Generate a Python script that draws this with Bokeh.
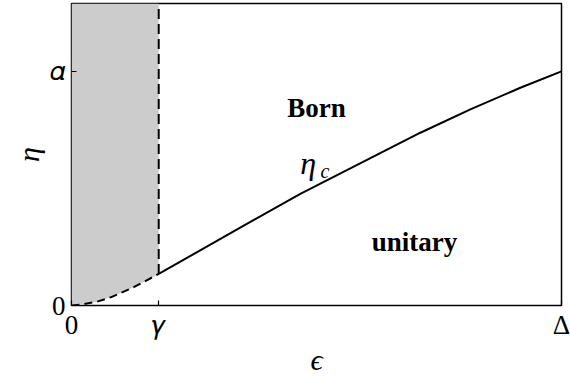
from bokeh.plotting import figure
from bokeh.models import Label, Range1d, FixedTicker
from bokeh.embed import file_html
from bokeh.resources import INLINE

# data (units: Delta = 1, alpha = 1)
gamma = 0.178
eta_top = 1.29
eps_dashed = [0.0, 0.018, 0.05, 0.08, 0.127, 0.178]
eta_dashed = [0.0, 0.004, 0.015, 0.035, 0.078, 0.135]
eps_solid = [0.178, 0.365, 0.467, 0.590, 0.712, 0.814, 0.916, 1.0]
eta_solid = [0.135, 0.357, 0.477, 0.608, 0.738, 0.838, 0.930, 1.0]
x_ticks = [0.0, gamma, 1.0]
x_tick_labels = ["0", "\U0001D6FE", "Δ"]
y_ticks = [0.0, 1.0]
y_tick_labels = ["0", "\U0001D6FC"]

FONT = "Liberation Serif"

p = figure(width=570, height=380, output_backend="svg", toolbar_location=None,
           x_range=Range1d(0, 1.0), y_range=Range1d(0, eta_top),
           min_border_left=71, min_border_right=9, min_border_top=3, min_border_bottom=75)
p.grid.visible = False
p.outline_line_color = "black"
p.outline_line_width = 1.5
p.background_fill_color = "white"

# shaded region
p.varea(x=eps_dashed, y1=eta_dashed, y2=[eta_top] * len(eps_dashed), fill_color="#cccccc")
p.line(eps_dashed, eta_dashed, line_color="black", line_width=2, line_dash="8 5")
p.line(eps_solid, eta_solid, line_color="black", line_width=2)
p.segment(x0=[gamma], y0=[eta_dashed[-1]], x1=[gamma], y1=[eta_top], line_color="black",
          line_width=2, line_dash="10 5")

for ax in (p.xaxis[0], p.yaxis[0]):
    ax.axis_line_color = None
    ax.major_tick_in = 5
    ax.major_tick_out = 0
    ax.major_tick_line_color = "black"
    ax.major_tick_line_width = 1.2
    ax.minor_tick_line_color = None
    ax.major_label_text_font = FONT
    ax.major_label_text_font_size = "27px"
    ax.major_label_text_color = "black"
    ax.axis_label_text_font = FONT
    ax.axis_label_text_font_style = "italic"
    ax.axis_label_text_font_size = "30px"
    ax.axis_label_text_color = "black"
p.xaxis.ticker = FixedTicker(ticks=x_ticks)
p.yaxis.ticker = FixedTicker(ticks=y_ticks)
p.xaxis.major_label_overrides = dict(zip(x_ticks, x_tick_labels))
p.yaxis.major_label_overrides = dict(zip(y_ticks, y_tick_labels))
p.xaxis.major_label_standoff = 4
p.yaxis.major_label_standoff = 6
p.xaxis.axis_label = "ϵ"
p.yaxis.axis_label = "η"
p.xaxis.axis_label_standoff = 0
p.yaxis.axis_label_standoff = 2

# region labels
p.add_layout(Label(x=0.5, y=0.842, text="Born", text_align="center", text_baseline="alphabetic",
                   text_font=FONT, text_font_size="27px", text_font_style="bold", text_color="black"))
p.add_layout(Label(x=0.700, y=0.270, text="unitary", text_align="center", text_baseline="alphabetic",
                   text_font=FONT, text_font_size="27px", text_font_style="bold", text_color="black"))
p.add_layout(Label(x=0.467, y=0.607, text="η", text_align="left", text_baseline="alphabetic",
                   text_font=FONT, text_font_size="32px", text_font_style="italic", text_color="black"))
p.add_layout(Label(x=0.508, y=0.575, text="c", text_align="left", text_baseline="alphabetic",
                   text_font=FONT, text_font_size="20px", text_font_style="italic", text_color="black"))

open("out.html", "w").write(file_html(p, INLINE))
